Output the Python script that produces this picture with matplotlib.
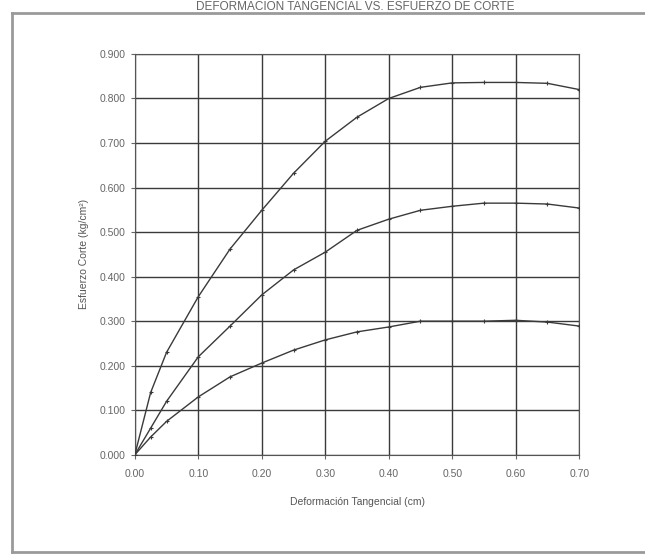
import matplotlib
matplotlib.use("Agg")
import matplotlib.pyplot as plt
from matplotlib.lines import Line2D
from matplotlib.ticker import FormatStrFormatter

plt.rcParams['font.family'] = ['Liberation Sans', 'DejaVu Sans']

# deformacion tangencial (cm)
deformacion = [0.00, 0.025, 0.05, 0.10, 0.15, 0.20, 0.25, 0.30, 0.35, 0.40,
               0.45, 0.50, 0.55, 0.60, 0.65, 0.70]
# esfuerzo de corte (kg/cm2) for the three normal loads
esfuerzo_alto = [0.000, 0.140, 0.230, 0.355, 0.462, 0.549, 0.632, 0.704, 0.758, 0.800,
                 0.825, 0.835, 0.836, 0.836, 0.834, 0.820]
esfuerzo_medio = [0.000, 0.060, 0.120, 0.220, 0.289, 0.359, 0.415, 0.455, 0.504, 0.529,
                  0.549, 0.558, 0.565, 0.565, 0.563, 0.554]
esfuerzo_bajo = [0.000, 0.040, 0.075, 0.130, 0.175, 0.206, 0.235, 0.258, 0.276, 0.287,
                 0.300, 0.300, 0.300, 0.302, 0.298, 0.289]

x_ticks = [0.0, 0.1, 0.2, 0.3, 0.4, 0.5, 0.6, 0.7]
y_ticks = [0.0, 0.1, 0.2, 0.3, 0.4, 0.5, 0.6, 0.7, 0.8, 0.9]

fig = plt.figure(figsize=(6.45, 5.56), dpi=100)
ax = fig.add_axes([0.209, 0.182, 0.689, 0.721])

for serie in (esfuerzo_alto, esfuerzo_medio, esfuerzo_bajo):
    ax.plot(deformacion, serie, color='#3a3a3a', linewidth=1.0,
            marker='+', markersize=3.5, markeredgewidth=0.8, zorder=3)

ax.set_xlim(0, 0.7)
ax.set_ylim(0, 0.9)
ax.set_xticks(x_ticks)
ax.set_yticks(y_ticks)
ax.xaxis.set_major_formatter(FormatStrFormatter('%.2f'))
ax.yaxis.set_major_formatter(FormatStrFormatter('%.3f'))
ax.grid(True, color='#3a3a3a', linewidth=1.0)
ax.set_axisbelow(True)
for side in ax.spines.values():
    side.set_color('#555555')
    side.set_linewidth(0.8)
ax.tick_params(colors='#666666', labelsize=7.5, length=3, width=0.8)
ax.tick_params(axis='x', pad=7)

ax.set_xlabel('Deformación Tangencial (cm)', fontsize=7.5, color='#555555', labelpad=13)
ax.set_ylabel('Esfuerzo Corte (kg/cm²)', fontsize=7.5, color='#555555', labelpad=8)

# scanned page: title above the outer frame of the chart
fig.text(0.55, 0.999, 'DEFORMACION TANGENCIAL VS. ESFUERZO DE CORTE',
         ha='center', va='top', fontsize=8.5, color='#666666')
frame = dict(color='#9a9a9a', linewidth=2.0)
fig.add_artist(Line2D([0.019, 1.0], [0.976, 0.976], **frame))
fig.add_artist(Line2D([0.019, 0.019], [0.976, 0.008], **frame))
fig.add_artist(Line2D([0.019, 1.0], [0.008, 0.008], **frame))

fig.savefig('out.png', dpi=100)
